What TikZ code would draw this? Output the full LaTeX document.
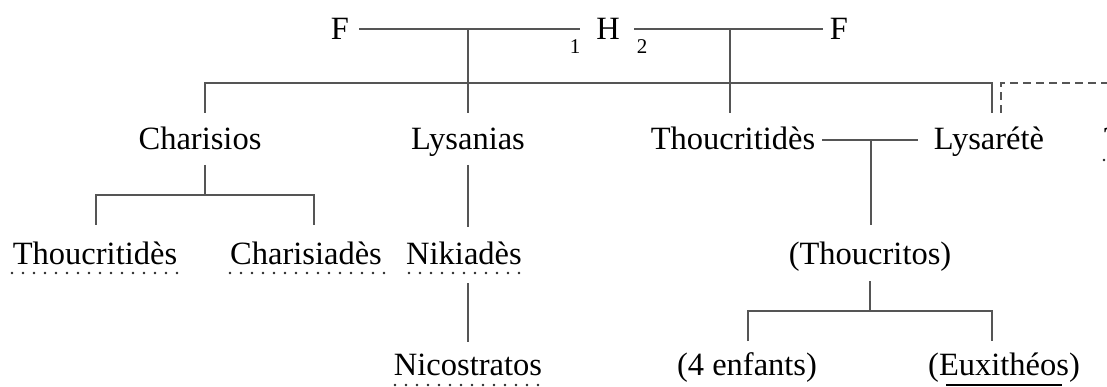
\documentclass[tikz,border=0pt]{standalone}
\usepackage{fontspec}
\setmainfont{Liberation Serif}
\definecolor{linegray}{HTML}{555555}
\begin{document}
\begin{tikzpicture}[x=1pt,y=-1pt,
  person/.style={font=\fontsize{32.5}{36}\selectfont, inner sep=0pt, anchor=base, text=black},
  subnum/.style={font=\fontsize{21}{24}\selectfont, inner sep=0pt, anchor=base, text=black},
  link/.style={draw=linegray, line width=1.3pt},
  dashlink/.style={draw=linegray, line width=1.3pt, dash pattern=on 8pt off 5pt},
  dotline/.style={draw=black!85, line width=2.8pt, line cap=round, dash pattern=on 0pt off 11pt},
  solidline/.style={draw=black, line width=1.8pt}]
\useasboundingbox (0,0) rectangle (1107,387);

% row 1
\node[person] (F1) at (340,40) {F};
\node[person] (H) at (608,40) {H};
\node[person] (F2) at (839,40) {F};
\node[subnum] (s1) at (575,54) {1};
\node[subnum] (s2) at (642,54) {2};

% row 2
\node[person] (charisios) at (200,150) {Charisios};
\node[person] (lysanias) at (468,150) {Lysanias};
\node[person] (thoucritides) at (733,150) {Thoucritidès};
\node[person] (lysarete) at (989,150) {Lysarétè};
\node[person] (unknown) at (1110,150) {?};

% row 3
\node[person] (thouc2) at (95,264) {Thoucritidès};
\node[person] (charisiades) at (306,264) {Charisiadès};
\node[person] (nikiades) at (464,264) {Nikiadès};
\node[person] (thoucritos) at (870,264) {(Thoucritos)};

% row 4
\node[person] (nicostratos) at (468,375) {Nicostratos};
\node[person] (enfants) at (747,375) {(4 enfants)};
\node[person] (euxitheos) at (1004,375) {(Euxithéos)};

% junction coordinates
\coordinate (m1a) at (359,29);
\coordinate (m1b) at (580,29);
\coordinate (m1c) at (468,29);
\coordinate (m2a) at (634,29);
\coordinate (m2b) at (823,29);
\coordinate (m2c) at (730,29);
\coordinate (barL) at (205,83);
\coordinate (barR) at (992,83);
\coordinate (charT) at (205,113);
\coordinate (lysT) at (468,113);
\coordinate (thT) at (730,113);
\coordinate (lyrT) at (992,113);
\coordinate (dashB) at (1001,113);
\coordinate (dashC) at (1001,83);
\coordinate (dashR) at (1110,83);

\coordinate (c1a) at (205,165);
\coordinate (c1b) at (205,195);
\coordinate (c1L) at (96,195);
\coordinate (c1R) at (314,195);
\coordinate (c1Ld) at (96,225);
\coordinate (c1Rd) at (314,225);
\coordinate (lyA) at (468,165);
\coordinate (lyB) at (468,227);

\coordinate (cpA) at (822,140);
\coordinate (cpB) at (918,140);
\coordinate (cpM) at (871,140);
\coordinate (cpD) at (871,225);

\coordinate (nkA) at (468,283);
\coordinate (nkB) at (468,342);
\coordinate (toA) at (870,281);
\coordinate (toB) at (870,311);
\coordinate (toL) at (748,311);
\coordinate (toR) at (992,311);
\coordinate (toLd) at (748,341);
\coordinate (toRd) at (992,341);

% connectors
\draw[link] (m1a) -- (m1b);
\draw[link] (m2a) -- (m2b);
\draw[link] (m1c) -- (lysT);
\draw[link] (m2c) -- (thT);
\draw[link] (charT) -- (barL) -- (barR) -- (lyrT);
\draw[dashlink] (dashB) -- (dashC) -- (dashR);

\draw[link] (c1a) -- (c1b);
\draw[link] (c1Ld) -- (c1L) -- (c1R) -- (c1Rd);
\draw[link] (lyA) -- (lyB);

\draw[link] (cpA) -- (cpB);
\draw[link] (cpM) -- (cpD);

\draw[link] (nkA) -- (nkB);
\draw[link] (toA) -- (toB);
\draw[link] (toLd) -- (toL) -- (toR) -- (toRd);

% underlines
\draw[dotline] (12,273) -- (178,273);
\draw[dotline] (230,273) -- (386,273);
\draw[dotline] (409,273) -- (521,273);
\draw[dotline] (395,385) -- (540,385);
\draw[dotline] (1104,160) -- (1120,160);
\draw[solidline] (946,385) -- (1062,385);
\end{tikzpicture}
\end{document}
